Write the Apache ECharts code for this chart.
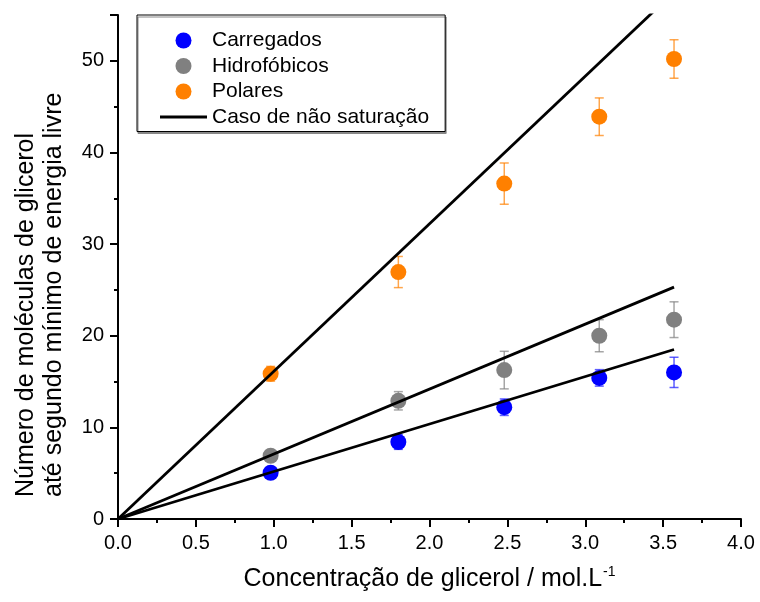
<!DOCTYPE html>
<html>
<head>
<meta charset="utf-8">
<script src="https://cdn.jsdelivr.net/npm/echarts@6/dist/echarts.min.js"></script>
<style>
  html, body { margin: 0; padding: 0; background: #fff; }
  #chart { width: 760px; height: 602px; }
</style>
</head>
<body>
<div id="chart"></div>
<script>
// Glycerol concentration (mol/L) at which each group was sampled
var concentracao = [0.98, 1.80, 2.48, 3.09, 3.57];

// Number of glycerol molecules up to the second free-energy minimum
var carregados = [5.05, 8.4, 12.2, 15.4, 16.0];
var carregadosErro = [0.3, 0.8, 0.9, 0.9, 1.65];

var hidrofobicos = [6.9, 12.9, 16.25, 20.0, 21.75];
var hidrofobicosErro = [0.3, 1.0, 2.05, 1.75, 1.95];

var polares = [15.85, 26.95, 36.6, 43.9, 50.2];
var polaresErro = [0.8, 1.7, 2.25, 2.05, 2.1];

// Non-saturation (linear) references, from the origin to the last concentration
var linhaX = [0, 3.57];
var linhaCarregados = [0, 18.5];
var linhaHidrofobicos = [0, 25.3];
var linhaPolares = [0, 57.5];

var xTicks = ['0.0', '0.5', '1.0', '1.5', '2.0', '2.5', '3.0', '3.5', '4.0'];

var tituloY = 'Número de moléculas de glicerol\naté segundo mínimo de energia livre';

var FONT = "'Liberation Sans', Arial, sans-serif";

function pontos(ys) {
  return concentracao.map(function (x, i) { return [x, ys[i]]; });
}
function pontosErro(ys, es) {
  return concentracao.map(function (x, i) { return [x, ys[i], es[i]]; });
}
function reta(ys) {
  return linhaX.map(function (x, i) { return [x, ys[i]]; });
}

function barraErro(cor) {
  return function (params, api) {
    var x = api.value(0), y = api.value(1), e = api.value(2);
    var hi = api.coord([x, y + e]);
    var lo = api.coord([x, y - e]);
    var w = 4.5;
    var st = { stroke: cor, lineWidth: 1.5 };
    return {
      type: 'group',
      children: [
        { type: 'line', shape: { x1: hi[0], y1: hi[1], x2: lo[0], y2: lo[1] }, style: st },
        { type: 'line', shape: { x1: hi[0] - w, y1: hi[1], x2: hi[0] + w, y2: hi[1] }, style: st },
        { type: 'line', shape: { x1: lo[0] - w, y1: lo[1], x2: lo[0] + w, y2: lo[1] }, style: st }
      ]
    };
  };
}

function serieErro(ys, es, cor) {
  return {
    type: 'custom',
    renderItem: barraErro(cor),
    data: pontosErro(ys, es),
    encode: { x: 0, y: 1 },
    z: 1,
    silent: true
  };
}

function serieReta(ys) {
  return {
    name: 'Caso de não saturação',
    type: 'line',
    data: reta(ys),
    symbol: 'none',
    showSymbol: false,
    clip: true,
    lineStyle: { color: '#000', width: 2.8 },
    itemStyle: { color: '#000' },
    z: 5,
    animation: false
  };
}

function serieScatter(nome, ys, cor) {
  return {
    name: nome,
    type: 'scatter',
    data: pontos(ys),
    symbol: 'circle',
    symbolSize: 16,
    itemStyle: { color: cor, opacity: 1 },
    z: 3
  };
}

var chart = echarts.init(document.getElementById('chart'), null, { renderer: 'canvas' });

chart.setOption({
  backgroundColor: '#fff',
  animation: false,
  textStyle: { fontFamily: FONT },
  grid: {
    left: 118, right: 19, top: 15, bottom: 83,
    containLabel: false,
    outerBoundsMode: 'none'
  },
  // two-line y-axis title, both lines starting at the same height
  graphic: [{
    type: 'text',
    x: 40,
    y: 497,
    rotation: Math.PI / 2,
    silent: true,
    style: {
      text: tituloY,
      fill: '#000',
      font: "25px 'Liberation Sans', Arial, sans-serif",
      lineHeight: 28,
      align: 'left',
      verticalAlign: 'middle'
    }
  }],
  legend: {
    left: 137,
    top: 15,
    orient: 'vertical',
    padding: [15, 16, 4, 23],
    itemGap: 4.5,
    itemWidth: 47,
    itemHeight: 16,
    borderColor: '#000',
    borderWidth: 1,
    backgroundColor: '#fff',
    shadowColor: '#888',
    shadowOffsetX: 1,
    shadowOffsetY: 2,
    shadowBlur: 0,
    borderRadius: 0,
    selectedMode: false,
    textStyle: { fontFamily: FONT, fontSize: 21, lineHeight: 21, color: '#000' },
    data: [
      { name: 'Carregados', icon: 'circle' },
      { name: 'Hidrofóbicos', icon: 'circle' },
      { name: 'Polares', icon: 'circle' },
      { name: 'Caso de não saturação', icon: 'path://M0,0H47V3H0Z' }
    ]
  },
  xAxis: {
    type: 'value',
    min: 0, max: 4, interval: 0.5,
    name: '{t|Concentração de glicerol / mol.L}{s|-1}',
    nameLocation: 'middle',
    nameGap: 46,
    nameTextStyle: {
      rich: {
        t: { fontFamily: FONT, fontSize: 25, color: '#000', lineHeight: 28 },
        s: { fontFamily: FONT, fontSize: 14, color: '#000', verticalAlign: 'top', lineHeight: 28, padding: [0, 0, 12, 1] }
      }
    },
    axisLine: { show: true, onZero: false, lineStyle: { color: '#000', width: 2 } },
    axisTick: { show: true, inside: false, length: 8, lineStyle: { color: '#000', width: 2 } },
    minorTick: { show: true, splitNumber: 2, length: 4, lineStyle: { color: '#000', width: 2 } },
    splitLine: { show: false },
    minorSplitLine: { show: false },
    axisLabel: {
      margin: 14,
      fontFamily: FONT, fontSize: 20, color: '#000',
      formatter: function (v) { return xTicks[Math.round(v / 0.5)]; }
    }
  },
  yAxis: [
    {
      type: 'value',
      position: 'left',
      min: 0, max: 55, interval: 10,
      axisLine: { show: true, onZero: false, lineStyle: { color: '#000', width: 2 } },
      axisTick: { show: true, inside: false, length: 8, lineStyle: { color: '#000', width: 2 } },
      splitLine: { show: false },
      axisLabel: {
        margin: 14,
        fontFamily: FONT, fontSize: 20, color: '#000',
        formatter: function (v) { return (v % 10 === 0) ? String(v) : ''; }
      }
    },
    {
      // minor ticks every 5 units on the same left axis
      type: 'value',
      position: 'left',
      offset: 0,
      min: 0, max: 55, interval: 5,
      axisLine: { show: false },
      axisTick: { show: true, inside: false, length: 4, lineStyle: { color: '#000', width: 2 } },
      axisLabel: { show: false },
      splitLine: { show: false }
    }
  ],
  series: [
    serieErro(carregados, carregadosErro, 'rgba(40,40,255,0.75)'),
    serieErro(hidrofobicos, hidrofobicosErro, 'rgba(128,128,128,0.7)'),
    serieErro(polares, polaresErro, 'rgba(255,128,0,0.7)'),
    serieScatter('Carregados', carregados, '#0000ff'),
    serieScatter('Hidrofóbicos', hidrofobicos, '#808080'),
    serieScatter('Polares', polares, '#ff8000'),
    serieReta(linhaCarregados),
    serieReta(linhaHidrofobicos),
    serieReta(linhaPolares)
  ]
});
</script>
</body>
</html>
